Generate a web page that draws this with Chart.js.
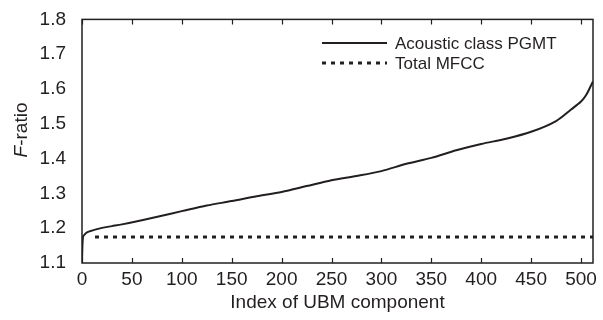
<!DOCTYPE html>
<html>
<head>
<meta charset="utf-8">
<script src="https://cdn.jsdelivr.net/npm/chart.js@4/dist/chart.umd.min.js"></script>
<style>
	html, body { margin: 0; padding: 0; background: #fff; }
</style>
</head>
<body>
<canvas id="myChart" width="603" height="320"></canvas>
<script>
const ctx = document.getElementById('myChart').getContext('2d');

const pgmtIndex = [0, 1, 3, 5, 10, 20, 30, 40, 60, 80, 100, 125, 150, 175, 200, 225, 250, 275, 300, 325, 350, 375, 400, 425, 450, 475, 490, 500, 505, 510, 512];
const pgmtRatio = [1.105, 1.175, 1.183, 1.188, 1.193, 1.201, 1.206, 1.211, 1.223, 1.236, 1.249, 1.265, 1.278, 1.292, 1.304, 1.321, 1.338, 1.35, 1.364, 1.385, 1.402, 1.424, 1.442, 1.457, 1.477, 1.508, 1.541, 1.564, 1.582, 1.61, 1.622];
const mfccIndex = [13, 512];
const mfccRatio = [1.175, 1.175];

const xTicks = [0, 50, 100, 150, 200, 250, 300, 350, 400, 450, 500];
const yTicks = [1.1, 1.2, 1.3, 1.4, 1.5, 1.6, 1.7, 1.8];
const seriesNames = ['Acoustic class PGMT', 'Total MFCC'];

const ink = '#231f20';
const fontFamily = '"Liberation Sans", Arial, sans-serif';

function toPoints(xs, ys) {
	return xs.map((x, i) => ({ x: x, y: ys[i] }));
}

// box, inward x ticks (bottom and top), legend, y title with italic F
const framePlugin = {
	id: 'frame',
	afterDraw(chart) {
		const c = chart.ctx;
		const area = chart.chartArea;
		const xScale = chart.scales.x;
		c.save();
		c.strokeStyle = ink;
		c.lineWidth = 1.5;
		c.strokeRect(area.left, area.top, area.right - area.left, area.bottom - area.top);

		c.lineWidth = 1.2;
		xTicks.forEach((t) => {
			const px = Math.round(xScale.getPixelForValue(t)) + 0.5;
			c.beginPath();
			c.moveTo(px, area.bottom);
			c.lineTo(px, area.bottom - 5);
			c.moveTo(px, area.top);
			c.lineTo(px, area.top + 5);
			c.stroke();
		});

		// legend
		const ds = chart.data.datasets;
		const lx1 = area.right - 271;
		const lx2 = area.right - 206;
		const rows = [43, 63];
		c.font = '17px ' + fontFamily;
		c.textBaseline = 'middle';
		c.fillStyle = ink;
		ds.forEach((d, i) => {
			c.beginPath();
			c.strokeStyle = d.borderColor;
			c.lineWidth = d.borderWidth;
			c.setLineDash(d.borderDash || []);
			c.moveTo(lx1, rows[i]);
			c.lineTo(lx2, rows[i]);
			c.stroke();
			c.setLineDash([]);
			c.fillText(d.label, lx2 + 8, rows[i] + 1);
		});

		// y title
		c.translate(22, 130);
		c.rotate(-Math.PI / 2);
		c.textBaseline = 'middle';
		c.textAlign = 'left';
		const italicPart = 'F';
		const restPart = '-ratio';
		c.font = 'italic 19px ' + fontFamily;
		const w1 = c.measureText(italicPart).width;
		c.font = '19px ' + fontFamily;
		const w2 = c.measureText(restPart).width;
		const start = -(w1 + w2) / 2;
		c.font = 'italic 19px ' + fontFamily;
		c.fillText(italicPart, start, 0);
		c.font = '19px ' + fontFamily;
		c.fillText(restPart, start + w1, 0);
		c.restore();
	},
};

new Chart(ctx, {
	type: 'line',
	data: {
		datasets: [
			{
				label: seriesNames[0],
				data: toPoints(pgmtIndex, pgmtRatio),
				fill: false,
				borderColor: ink,
				borderWidth: 2,
				pointRadius: 0,
				tension: 0.3,
			},
			{
				label: seriesNames[1],
				data: toPoints(mfccIndex, mfccRatio),
				fill: false,
				borderColor: ink,
				borderWidth: 3,
				borderDash: [4, 5],
				pointRadius: 0,
			},
		],
	},
	options: {
		responsive: false,
		animation: false,
		layout: { padding: { top: 12, right: 10, left: 0, bottom: 0 } },
		plugins: {
			legend: { display: false },
			tooltip: { enabled: false },
		},
		scales: {
			x: {
				type: 'linear',
				min: 0,
				max: 512,
				grid: { display: false },
				border: { display: false },
				afterBuildTicks: (axis) => {
					axis.ticks = xTicks.map((v) => ({ value: v }));
				},
				afterFit: (axis) => {
					axis.height = 57;
				},
				ticks: {
					color: ink,
					padding: -3,
					maxRotation: 0,
					autoSkip: false,
					font: { family: fontFamily, size: 19 },
				},
				title: {
					display: true,
					text: 'Index of UBM component',
					color: ink,
					padding: { top: 0, bottom: 6 },
					font: { family: fontFamily, size: 19 },
				},
			},
			y: {
				type: 'linear',
				min: 1.1,
				max: 1.8,
				grid: { display: false },
				border: { display: false },
				afterBuildTicks: (axis) => {
					axis.ticks = yTicks.map((v) => ({ value: v }));
				},
				afterFit: (axis) => {
					axis.width = 82;
				},
				ticks: {
					color: ink,
					padding: 8,
					autoSkip: false,
					font: { family: fontFamily, size: 19 },
					callback: (v) => v.toFixed(1),
				},
			},
		},
	},
	plugins: [framePlugin],
});
</script>
</body>
</html>
